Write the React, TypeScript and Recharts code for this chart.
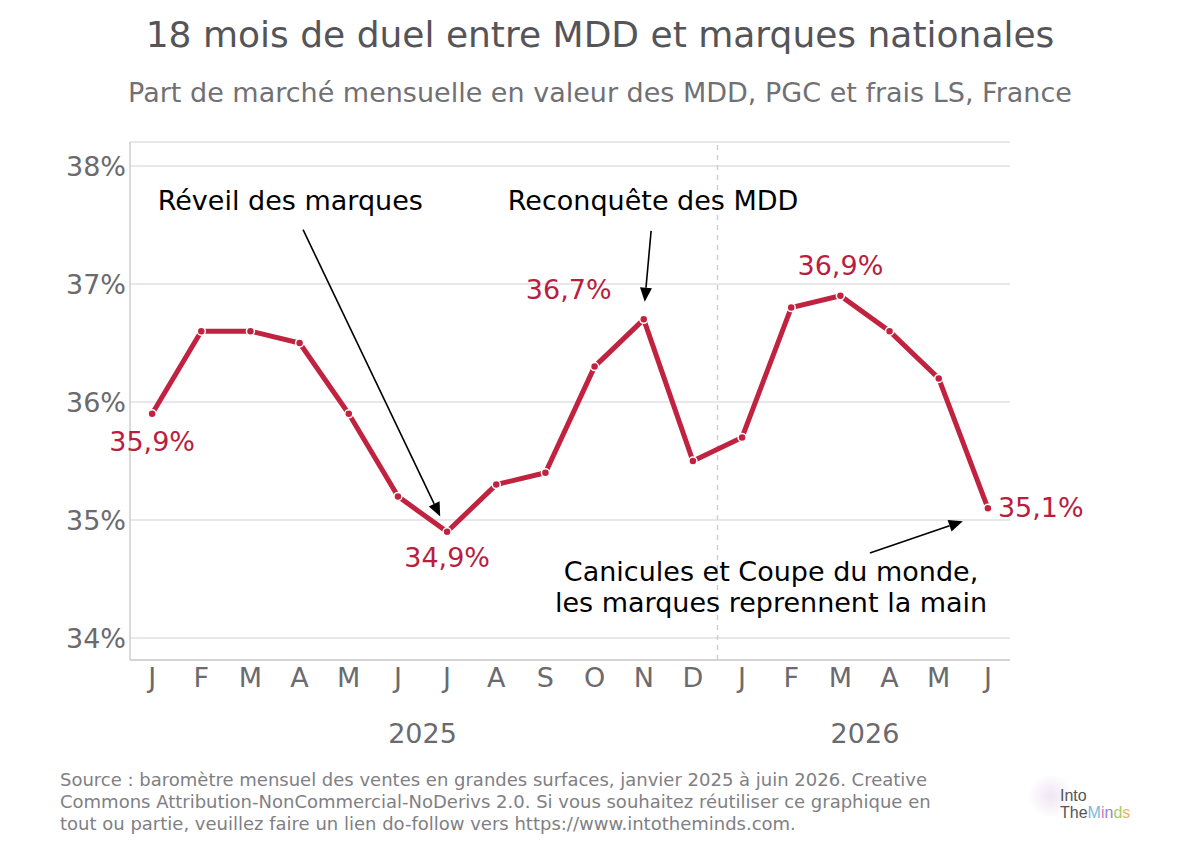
import { LineChart, Line, XAxis, YAxis, CartesianGrid, ReferenceLine, ReferenceDot, LabelList } from 'recharts'

const MONTHS = ['J', 'F', 'M', 'A', 'M', 'J', 'J', 'A', 'S', 'O', 'N', 'D', 'J', 'F', 'M', 'A', 'M', 'J']
const SHARE = [35.9, 36.6, 36.6, 36.5, 35.9, 35.2, 34.9, 35.3, 35.4, 36.3, 36.7, 35.5, 35.7, 36.8, 36.9, 36.6, 36.2, 35.1]
const Y_TICKS = [34, 35, 36, 37, 38]
const YEAR_TICKS = [5.5, 14.5]
const YEARS = ['2025', '2026']

// value labels shown on a few points: index -> offset / anchor
const VALUE_LABELS = [
  { i: 0, dx: 0, dy: 28, anchor: 'middle' },
  { i: 6, dx: 0, dy: 26, anchor: 'middle' },
  { i: 10, dx: -75, dy: -30, anchor: 'middle' },
  { i: 14, dx: 0, dy: -30, anchor: 'middle' },
  { i: 17, dx: 10, dy: -1, anchor: 'start' },
]

// annotation texts (data coordinates)
const NOTES = [
  { x: 2.81, y: 37.71, text: 'Réveil des marques' },
  { x: 10.19, y: 37.71, text: 'Reconquête des MDD' },
  { x: 12.59, y: 34.56, text: 'Canicules et Coupe du monde,' },
  { x: 12.59, y: 34.305, text: 'les marques reprennent la main' },
]

const ARROWS = [
  { from: { x: 3.07, y: 37.46 }, to: { x: 5.86, y: 35.03 } },
  { from: { x: 10.15, y: 37.45 }, to: { x: 10.02, y: 36.85 } },
  { from: { x: 14.6, y: 34.72 }, to: { x: 16.49, y: 34.99 } },
]

const RED = '#c0223f'
const LABEL_RED = '#b91e40'
const GRAY = '#6b6a6e'
const FONT = "'DejaVu Sans', sans-serif"
const FS = 27

const data = SHARE.map((v, i) => ({ idx: i, month: MONTHS[i], share: v }))

const Arrow = (props: any) => {
  const { x1, y1, x2, y2 } = props
  const ang = Math.atan2(y2 - y1, x2 - x1)
  const len = 14
  const half = 6
  const bx = x2 - len * Math.cos(ang)
  const by = y2 - len * Math.sin(ang)
  const px = -Math.sin(ang) * half
  const py = Math.cos(ang) * half
  return (
    <g>
      <line x1={x1} y1={y1} x2={bx} y2={by} stroke="#000" strokeWidth={1.6} />
      <polygon points={`${x2},${y2} ${bx + px},${by + py} ${bx - px},${by - py}`} fill="#000" />
    </g>
  )
}

const ValueLabel = (props: any) => {
  const { x, y, index, value } = props
  const l = VALUE_LABELS.find((d) => d.i === index)
  if (!l) return null
  return (
    <text x={x + l.dx} y={y + l.dy} textAnchor={l.anchor as any} dominantBaseline="central"
      fill={LABEL_RED} fontSize={FS} fontFamily={FONT}>
      {String(value).replace('.', ',')}%
    </text>
  )
}

export default function App() {
  return (
    <div style={{ position: 'absolute', left: 0, top: 0, width: 1200, height: 854, background: '#fff', fontFamily: FONT }}>
      <div style={{ position: 'absolute', top: 14, width: 1200, textAlign: 'center', fontSize: 36, lineHeight: '42px', color: '#555458' }}>
        18 mois de duel entre MDD et marques nationales
      </div>
      <div style={{ position: 'absolute', top: 77, width: 1200, textAlign: 'center', fontSize: 27, lineHeight: '32px', color: '#717074' }}>
        Part de marché mensuelle en valeur des MDD, PGC et frais LS, France
      </div>

      <LineChart width={1200} height={854} data={data}
        margin={{ top: 142, right: 190, bottom: 88, left: 70 }}>
        <CartesianGrid vertical={false} stroke="#e2dfe3" strokeWidth={1.5} />
        <XAxis dataKey="idx" type="number" domain={[-0.45, 17.45]} ticks={data.map((d) => d.idx)}
          tickFormatter={(v) => MONTHS[v]} height={46} tickSize={0} tickMargin={8}
          axisLine={{ stroke: '#cfcdd1', strokeWidth: 1.5 }}
          tick={{ fill: GRAY, fontSize: FS, fontFamily: FONT }} interval={0} />
        <XAxis xAxisId="year" dataKey="idx" type="number" domain={[-0.45, 17.45]} ticks={YEAR_TICKS}
          tickFormatter={(v) => (v < 12 ? YEARS[0] : YEARS[1])} height={60} tickSize={0} tickMargin={18}
          axisLine={false} tick={{ fill: GRAY, fontSize: FS, fontFamily: FONT }} />
        <YAxis type="number" domain={[33.8136, 38.203]} ticks={Y_TICKS} tickFormatter={(v) => `${v}%`}
          width={60} tickSize={0} tickMargin={4}
          axisLine={{ stroke: '#cfcdd1', strokeWidth: 1.5 }}
          tick={{ fill: GRAY, fontSize: FS, fontFamily: FONT }} />
        <ReferenceLine x={11.5} stroke="#d2d0d4" strokeWidth={1.5} strokeDasharray="5 5" />
        {ARROWS.map((a, i) => (
          <ReferenceLine key={i} segment={[a.from, a.to]} shape={Arrow} />
        ))}
        {NOTES.map((n, i) => (
          <ReferenceDot key={i} x={n.x} y={n.y} r={0}
            shape={(p: any) => (
              <text x={p.cx} y={p.cy} textAnchor="middle" dominantBaseline="central"
                fill="#000" fontSize={FS} fontFamily={FONT}>{n.text}</text>
            )} />
        ))}
        <Line dataKey="share" stroke={RED} strokeWidth={5} isAnimationActive={false}
          dot={{ r: 4, fill: RED, stroke: '#fff', strokeWidth: 1.5 }} activeDot={false}>
          <LabelList dataKey="share" content={ValueLabel} />
        </Line>
      </LineChart>

      <div style={{ position: 'absolute', left: 60, top: 769, width: 950, fontSize: 18, lineHeight: '22px', color: '#808084' }}>
        Source : baromètre mensuel des ventes en grandes surfaces, janvier 2025 à juin 2026. Creative<br />
        Commons Attribution-NonCommercial-NoDerivs 2.0. Si vous souhaitez réutiliser ce graphique en<br />
        tout ou partie, veuillez faire un lien do-follow vers https://www.intotheminds.com.
      </div>
      <div style={{ position: 'absolute', left: 1028, top: 776, width: 46, height: 40, borderRadius: 23, background: 'radial-gradient(circle, #efe6f2 0%, #ffffff 75%)' }} />
      <div style={{ position: 'absolute', left: 1060, top: 787, fontFamily: "'Liberation Sans', sans-serif", fontSize: 16, lineHeight: '17px', color: '#555' }}>
        <div>Into</div>
        <div>
          The<span style={{ color: '#7db8e0' }}>M</span><span style={{ color: '#e07ab0' }}>i</span>
          <span style={{ color: '#9b7fc9' }}>n</span><span style={{ color: '#a9c96a' }}>d</span>
          <span style={{ color: '#f0b060' }}>s</span>
        </div>
      </div>
    </div>
  )
}
